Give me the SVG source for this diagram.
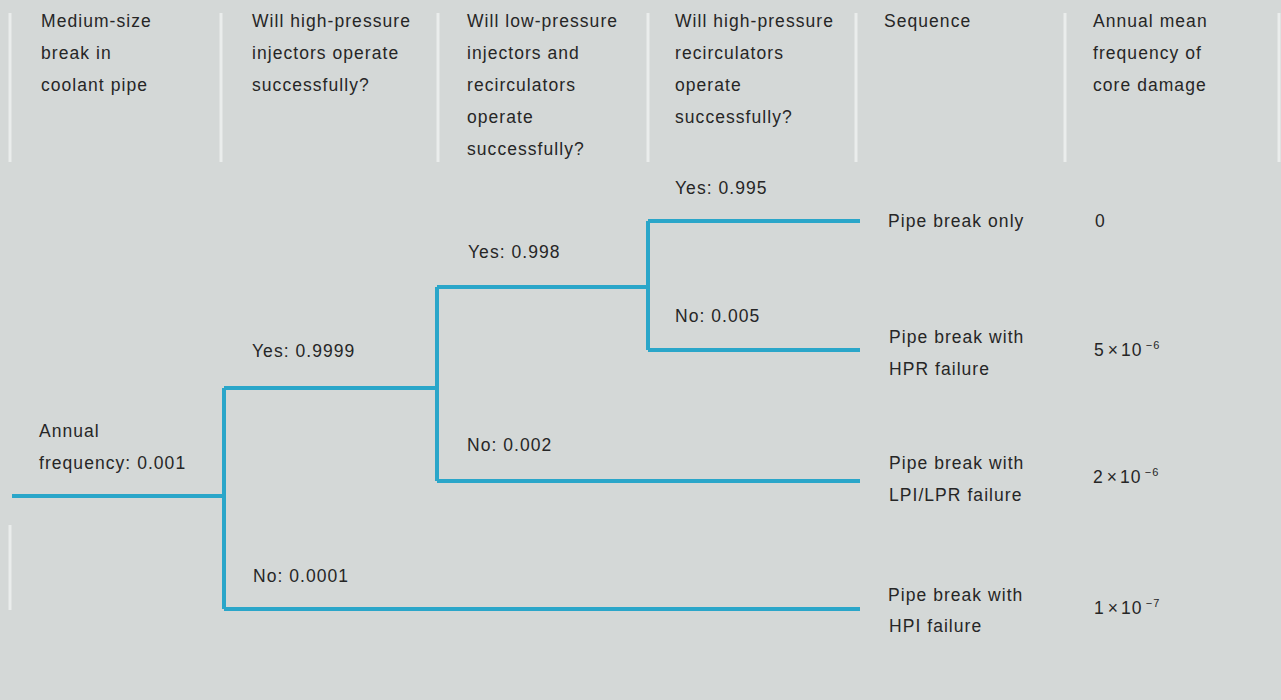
<svg xmlns="http://www.w3.org/2000/svg" width="1281" height="700" viewBox="0 0 1281 700">
<style>
text{font-family:"Liberation Sans",Arial,sans-serif;font-size:17.5px;fill:#262626;letter-spacing:1.05px}
.sup{font-size:11px}
.sep{stroke:#f2f4f3;stroke-width:3;opacity:0.75}
.br{fill:none;stroke:#2aa6c9;stroke-width:4;stroke-linecap:butt;stroke-linejoin:miter}
</style>
<rect width="1281" height="700" fill="#d4d8d7"/>
<g id="separators">
<line class="sep" x1="10" y1="13" x2="10" y2="162"/>
<line class="sep" x1="221" y1="13" x2="221" y2="162"/>
<line class="sep" x1="438" y1="13" x2="438" y2="162"/>
<line class="sep" x1="648" y1="13" x2="648" y2="162"/>
<line class="sep" x1="856" y1="13" x2="856" y2="162"/>
<line class="sep" x1="1065" y1="13" x2="1065" y2="162"/>
<line class="sep" x1="1279" y1="13" x2="1279" y2="162"/>
<line class="sep" x1="10" y1="525" x2="10" y2="610"/>
</g>
<g id="headers">
<g id="h1"><text x="41" y="27">Medium-size</text><text x="41" y="59">break in</text><text x="41" y="91">coolant pipe</text></g>
<g id="h2"><text x="252" y="27">Will high-pressure</text><text x="252" y="59">injectors operate</text><text x="252" y="91">successfully?</text></g>
<g id="h3"><text x="467" y="27">Will low-pressure</text><text x="467" y="59">injectors and</text><text x="467" y="91">recirculators</text><text x="467" y="123">operate</text><text x="467" y="155">successfully?</text></g>
<g id="h4"><text x="675" y="27">Will high-pressure</text><text x="675" y="59">recirculators</text><text x="675" y="91">operate</text><text x="675" y="123">successfully?</text></g>
<g id="h5"><text x="884" y="27">Sequence</text></g>
<g id="h6"><text x="1093" y="27">Annual mean</text><text x="1093" y="59">frequency of</text><text x="1093" y="91">core damage</text></g>
</g>
<g id="connectors">
<path class="br" d="M12 496 H224"/>
<path class="br" d="M224 388 V609"/>
<path class="br" d="M224 388 H437"/>
<path class="br" d="M224 609 H860"/>
<path class="br" d="M437 287 V481"/>
<path class="br" d="M437 287 H648"/>
<path class="br" d="M437 481 H860"/>
<path class="br" d="M648 221 V350"/>
<path class="br" d="M648 221 H860"/>
<path class="br" d="M648 350 H860"/>
</g>
<g id="branch-labels">
<g id="start"><text x="39" y="437">Annual</text><text x="39" y="469">frequency: 0.001</text></g>
<g id="l-yes-hpi"><text x="252" y="357">Yes: 0.9999</text></g>
<g id="l-no-hpi"><text x="253" y="582">No: 0.0001</text></g>
<g id="l-yes-lpi"><text x="468" y="258">Yes: 0.998</text></g>
<g id="l-no-lpi"><text x="467" y="451">No: 0.002</text></g>
<g id="l-yes-hpr"><text x="675" y="194">Yes: 0.995</text></g>
<g id="l-no-hpr"><text x="675" y="322">No: 0.005</text></g>
</g>
<g id="outcomes">
<g id="o1"><text x="888" y="227">Pipe break only</text><text x="1095" y="227">0</text></g>
<g id="o2"><text x="889" y="343">Pipe break with</text><text x="889" y="375">HPR failure</text><text x="1094" y="356" letter-spacing="0">5<tspan dx="3">×</tspan><tspan dx="2">10</tspan><tspan class="sup" dx="3" dy="-7">−6</tspan></text></g>
<g id="o3"><text x="889" y="469">Pipe break with</text><text x="889" y="501">LPI/LPR failure</text><text x="1093" y="483" letter-spacing="0">2<tspan dx="3">×</tspan><tspan dx="2">10</tspan><tspan class="sup" dx="3" dy="-7">−6</tspan></text></g>
<g id="o4"><text x="888" y="601">Pipe break with</text><text x="889" y="632">HPI failure</text><text x="1094" y="614" letter-spacing="0">1<tspan dx="3">×</tspan><tspan dx="2">10</tspan><tspan class="sup" dx="3" dy="-7">−7</tspan></text></g>
</g>
</svg>
